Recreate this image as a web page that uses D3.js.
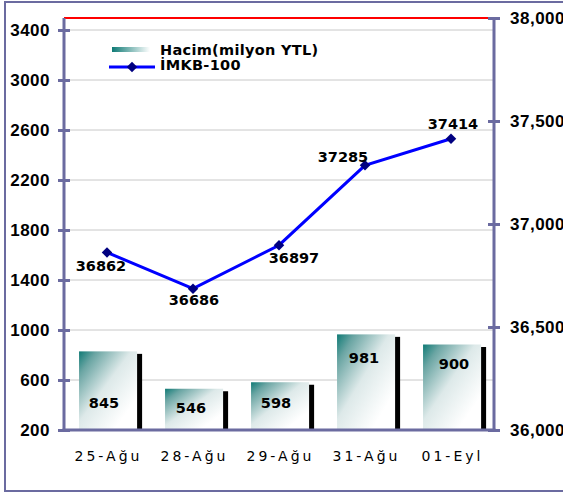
<!DOCTYPE html>
<html>
<head>
<meta charset="utf-8">
<script src="https://cdn.jsdelivr.net/npm/d3@7"></script>
<style>
  body { margin: 0; background: #fff; }
  svg { display: block; }
</style>
</head>
<body>
<div id="chart"></div>
<script>
// data
const categories = ['25-Ağu', '28-Ağu', '29-Ağu', '31-Ağu', '01-Eyl'];
const hacim = [845, 546, 598, 981, 900];
const imkb = [36862, 36686, 36897, 37285, 37414];
const leftTicks = [200, 600, 1000, 1400, 1800, 2200, 2600, 3000, 3400];
const rightTicks = [36000, 36500, 37000, 37500, 38000];
const seriesNames = ['Hacim(milyon YTL)', 'İMKB-100'];

// label nudges (style only, pixels)
const barLabelDy = [54, 21, 23, 26, 21];
const barLabelDx = [-3, -2, -3, -1, 3];
const lineLabelOff = [[-6, 14], [1, 11], [15, 13], [-22, -8], [2, -15]];

const width = 563, height = 493;
const plot = { left: 64, right: 494, top: 18, bottom: 430 };
const frameColor = '#6b6ba0';
const teal = '#0f7a75';

const svg = d3.select('#chart').append('svg')
  .attr('width', width)
  .attr('height', height);

const defs = svg.append('defs');
const g1 = defs.append('linearGradient').attr('id', 'barGrad')
  .attr('x1', 0).attr('y1', 0).attr('x2', 1).attr('y2', 1);
g1.append('stop').attr('offset', 0).attr('stop-color', teal);
g1.append('stop').attr('offset', 0.15).attr('stop-color', '#6aa5a3');
g1.append('stop').attr('offset', 0.45).attr('stop-color', '#dde9e9');
g1.append('stop').attr('offset', 0.8).attr('stop-color', '#ffffff');

const g2 = defs.append('linearGradient').attr('id', 'legGrad')
  .attr('x1', 0).attr('y1', 0).attr('x2', 1).attr('y2', 0);
g2.append('stop').attr('offset', 0).attr('stop-color', teal);
g2.append('stop').attr('offset', 1).attr('stop-color', '#ffffff');

// outer frame
svg.append('rect')
  .attr('x', 5).attr('y', 2)
  .attr('width', 620).attr('height', 489)
  .attr('fill', 'none')
  .attr('stroke', frameColor)
  .attr('stroke-width', 2);

// scales
const x = d3.scaleBand().domain(categories).range([plot.left, plot.right]).padding(0);
const yL = d3.scaleLinear().domain([200, 3496]).range([plot.bottom, plot.top]);
const yR = d3.scaleLinear().domain([36000, 38000]).range([plot.bottom, plot.top]);
const bw = x.bandwidth();

// gridlines
svg.append('g')
  .selectAll('line')
  .data(leftTicks.slice(1))
  .enter()
  .append('line')
  .attr('x1', plot.left).attr('x2', plot.right)
  .attr('y1', d => yL(d)).attr('y2', d => yL(d))
  .attr('stroke', '#c8c8c8')
  .attr('stroke-width', 1);

// top red line
svg.append('line')
  .attr('x1', plot.left).attr('x2', plot.right)
  .attr('y1', plot.top).attr('y2', plot.top)
  .attr('stroke', '#ff0000')
  .attr('stroke-width', 2);

// bars
const bars = svg.append('g');
bars.selectAll('.face')
  .data(hacim)
  .enter()
  .append('rect')
  .attr('class', 'face')
  .attr('x', (d, i) => x(categories[i]) + bw * 0.175)
  .attr('width', bw * 0.675)
  .attr('y', d => yL(d) + 2)
  .attr('height', d => plot.bottom - yL(d) - 2)
  .attr('fill', 'url(#barGrad)');

bars.selectAll('.side')
  .data(hacim)
  .enter()
  .append('rect')
  .attr('class', 'side')
  .attr('x', (d, i) => x(categories[i]) + bw * 0.85)
  .attr('width', 5)
  .attr('y', d => yL(d) + 4.5)
  .attr('height', d => plot.bottom - yL(d) - 4.5)
  .attr('fill', '#000');

bars.selectAll('.blabel')
  .data(hacim)
  .enter()
  .append('text')
  .attr('class', 'blabel')
  .attr('x', (d, i) => x(categories[i]) + bw * 0.5 + barLabelDx[i])
  .attr('y', (d, i) => yL(d) + barLabelDy[i] + 5)
  .attr('text-anchor', 'middle')
  .style('font', 'bold 14.5px "DejaVu Sans", sans-serif')
  .attr('fill', '#000')
  .text(d => d);

// axes
const axisL = svg.append('g')
  .attr('transform', `translate(${plot.left},0)`)
  .call(d3.axisLeft(yL).tickValues(leftTicks).tickFormat(d3.format('d')).tickSizeInner(6).tickSizeOuter(0).tickPadding(8));
const axisR = svg.append('g')
  .attr('transform', `translate(${plot.right},0)`)
  .call(d3.axisRight(yR).tickValues(rightTicks).tickFormat(d3.format(',')).tickSizeInner(6).tickSizeOuter(0).tickPadding(10));

[axisL, axisR].forEach(a => {
  a.select('.domain').attr('stroke', frameColor).attr('stroke-width', 3)
    .attr('d', `M0,${plot.top}V${plot.bottom + 1.5}`);
  a.selectAll('.tick line').attr('stroke', frameColor).attr('stroke-width', 3)
    .attr('x1', -6).attr('x2', 6);
  a.selectAll('.tick text')
    .style('font', 'bold 17px "Liberation Sans", Arial, sans-serif')
    .style('letter-spacing', '0.5px')
    .attr('fill', '#000');
});

// bottom axis line
svg.append('line')
  .attr('x1', plot.left - 1.5).attr('x2', plot.right + 1.5)
  .attr('y1', plot.bottom).attr('y2', plot.bottom)
  .attr('stroke', frameColor)
  .attr('stroke-width', 3);

// category labels
svg.append('g')
  .selectAll('text')
  .data(categories)
  .enter()
  .append('text')
  .attr('x', d => x(d) + bw / 2 + 1.5)
  .attr('y', plot.bottom + 31)
  .attr('text-anchor', 'middle')
  .style('font', '14px "DejaVu Sans", sans-serif')
  .style('letter-spacing', '3px')
  .attr('fill', '#000')
  .text(d => d);

// line series
const line = d3.line()
  .x((d, i) => x(categories[i]) + bw / 2)
  .y(d => yR(d));

svg.append('path')
  .datum(imkb)
  .attr('d', line)
  .attr('fill', 'none')
  .attr('stroke', '#0000ff')
  .attr('stroke-width', 3);

const diamond = d3.symbol().type(d3.symbolDiamond2).size(70);

svg.append('g')
  .selectAll('path')
  .data(imkb)
  .enter()
  .append('path')
  .attr('d', diamond)
  .attr('transform', (d, i) => `translate(${x(categories[i]) + bw / 2},${yR(d)})`)
  .attr('fill', '#000080');

svg.append('g')
  .selectAll('text')
  .data(imkb)
  .enter()
  .append('text')
  .attr('x', (d, i) => x(categories[i]) + bw / 2 + lineLabelOff[i][0])
  .attr('y', (d, i) => yR(d) + lineLabelOff[i][1] + 5)
  .attr('text-anchor', 'middle')
  .style('font', 'bold 14.5px "DejaVu Sans", sans-serif')
  .attr('fill', '#000')
  .text(d => d);

// legend
const legend = svg.append('g');
legend.append('rect')
  .attr('x', 112).attr('y', 47)
  .attr('width', 38).attr('height', 5)
  .attr('fill', 'url(#legGrad)');
legend.append('line')
  .attr('x1', 109).attr('x2', 155)
  .attr('y1', 67).attr('y2', 67)
  .attr('stroke', '#0000ff')
  .attr('stroke-width', 3);
legend.append('path')
  .attr('d', diamond)
  .attr('transform', 'translate(132,67)')
  .attr('fill', '#000080');
legend.selectAll('text')
  .data(seriesNames)
  .enter()
  .append('text')
  .attr('x', 160)
  .attr('y', (d, i) => 55 + i * 15)
  .style('font', 'bold 14.5px "DejaVu Sans", sans-serif')
  .style('letter-spacing', '0.3px')
  .attr('fill', '#000')
  .text(d => d);
</script>
</body>
</html>
